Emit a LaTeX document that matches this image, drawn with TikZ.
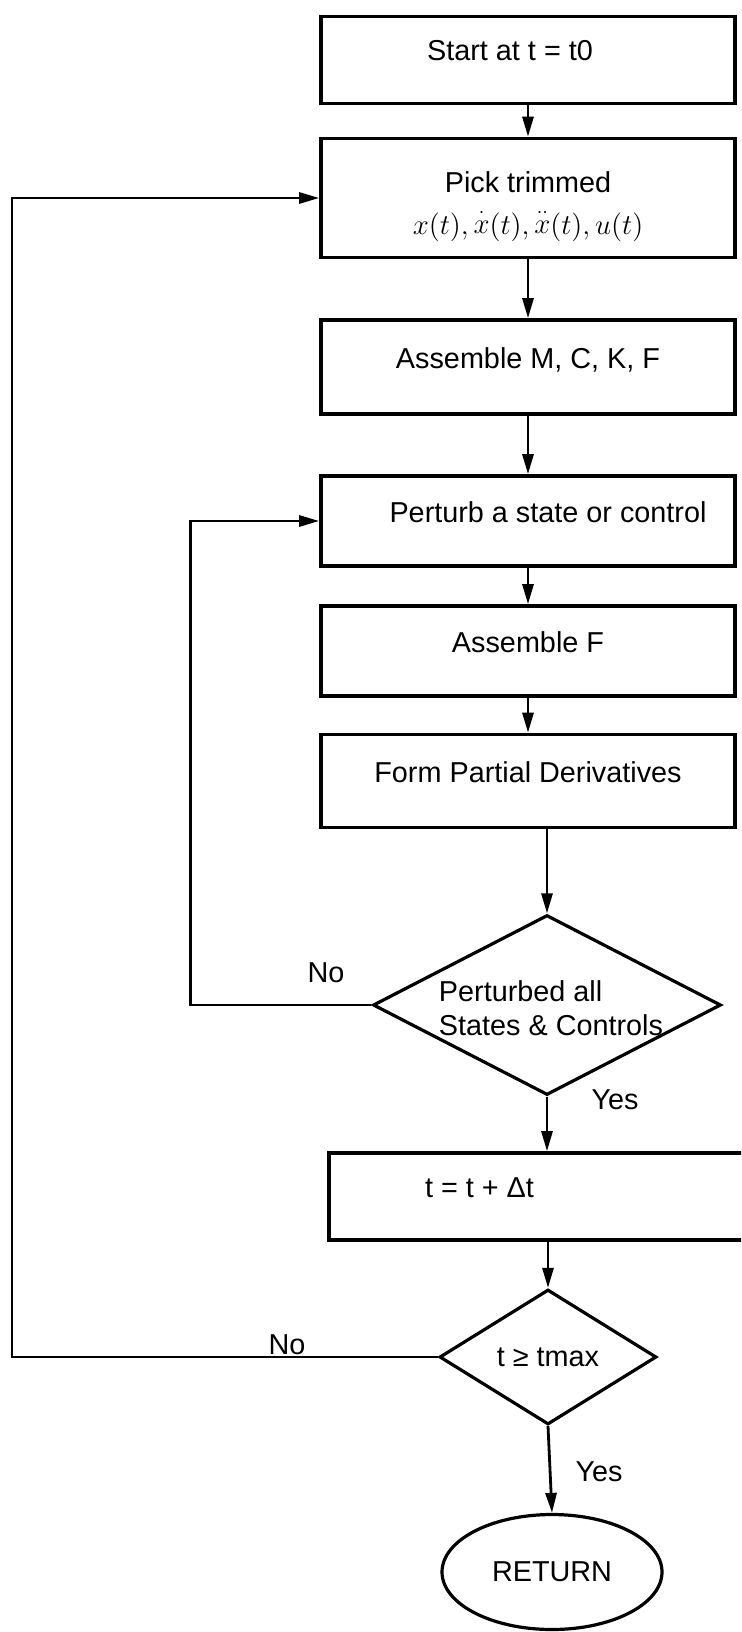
\documentclass[tikz,border=0pt]{standalone}
\usepackage{fontspec}
\setmainfont{Liberation Sans}
\usetikzlibrary{shapes.geometric,arrows.meta}

\begin{document}
\begin{tikzpicture}[x=0.5pt, y=-0.5pt,
  every node/.style={font=\fontsize{14.4}{17}\selectfont},
  box/.style={draw, line width=1.8pt, minimum width=207pt, inner sep=0pt, text height=10pt, text depth=9pt},
  decision/.style={draw, diamond, line width=1.6pt, inner sep=0pt},
  arr/.style={line width=1.4pt, -{Triangle[length=10pt,width=5.5pt]}}]
\clip (0,0) rectangle (741,1632);

% Draw the main column of boxes
\node[box, minimum height=43.5pt] (start) at (528,60) {Start at t = t0\hspace*{18pt}};
\node[draw, line width=1.8pt, minimum width=207pt, minimum height=59.5pt] (pick) at (528,198) {};
\node[align=center] (picktxt) at (528,207) {Pick trimmed\\[4pt] $x(t),{\stackrel{\cdot}{x}}(t),{\stackrel{\cdot\cdot}{x}}(t),u(t)$};
\node[box, minimum height=47pt] (asm) at (528,367) {Assemble M, C, K, F};
\node[box, minimum height=45pt] (pert) at (528,521) {\hspace*{20pt}Perturb a state or control};
\node[box, minimum height=45pt] (asmF) at (528,651) {Assemble F};
\node[box, minimum height=46.5pt] (form) at (528,781) {Form Partial Derivatives};

% Decision on states and controls
\node[decision, minimum width=174pt, minimum height=90pt] (dia1) at (547,1005) {};
\node[align=left] (dia1txt) at (551,1008) {Perturbed all\\States \& Controls};

% Time step box runs off the right edge
\node[box, minimum width=225.5pt, minimum height=43.5pt] (tbox) at (554.5,1196.5) {};
\node[anchor=west] (tstep) at (418,1188) {t = t + Δt};

% End test and return
\node[decision, minimum width=108.5pt, minimum height=67.5pt] (dia2) at (548,1357) {t ≥ tmax};
\node[draw, ellipse, line width=1.6pt, minimum width=110pt, minimum height=57.5pt] (ret) at (552,1572) {RETURN};

% Arrows down the column
\draw[arr] (start.south) -- (pick.north);
\draw[arr] (pick.south) -- (asm.north);
\draw[arr] (asm.south) -- (pert.north);
\draw[arr] (pert.south) -- (asmF.north);
\draw[arr] (asmF.south) -- (form.north);
\draw[arr] (form.south -| dia1.north) -- (dia1.north);
\draw[arr] (dia1.south) -- (dia1.south |- tbox.north);
\draw[arr] (tbox.south -| dia2.north) -- (dia2.north);
\draw[arr] (dia2.south) -- (ret.north);

% Loops back
\draw[arr] (dia1.west) -- ++(-181,0) |- (pert.west);
\draw[arr] (dia2.west) -- ++(-426,0) |- (pick.west);

\node (no1) at (326,973) {No};
\node (yes1) at (615,1100) {Yes};
\node (no2) at (287,1345) {No};
\node (yes2) at (599,1472) {Yes};

\end{tikzpicture}
\end{document}
